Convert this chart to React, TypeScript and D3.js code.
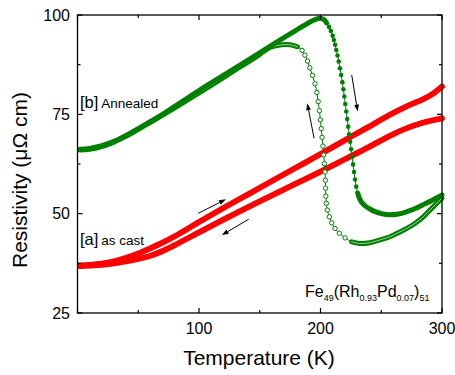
import React from 'react';
import * as d3 from 'd3';

const W = 455;
const H = 375;

// Axis ticks
const X_MAJOR = [0, 100, 200, 300];
const X_LABELS = ['', '100', '200', '300'];
const X_MINOR = [50, 150, 250];
const Y_MAJOR = [25, 50, 75, 100];
const Y_LABELS = ['25', '50', '75', '100'];
const Y_MINOR = [37.5, 62.5, 87.5];

// [a] as cast, heating (upper red)
const RED_HEAT_T = [2, 10, 20, 30, 40, 50, 60, 70, 80, 100, 120, 140, 160, 180, 200, 220, 240, 257, 270, 285, 292, 300];
const RED_HEAT_R = [37.0, 37.1, 37.4, 38.0, 38.9, 40.0, 41.3, 42.7, 44.3, 47.9, 51.4, 54.8, 58.2, 61.6, 65.0, 68.5, 71.9, 74.9, 76.9, 78.9, 80.1, 82.0];
// [a] as cast, cooling (lower red)
const RED_COOL_T = [300, 284, 270, 257, 240, 220, 200, 180, 160, 140, 120, 100, 80, 70, 60, 50, 40, 30, 20, 10, 2];
const RED_COOL_R = [74.0, 72.9, 71.4, 69.6, 66.8, 63.7, 60.6, 57.6, 54.6, 51.6, 48.5, 45.3, 42.1, 40.6, 39.4, 38.6, 38.0, 37.5, 37.1, 36.9, 36.8];

// [b] Annealed, heating (filled green)
const GREEN_HEAT_T = [2, 10, 20, 30, 40, 50, 60, 70, 80, 100, 120, 140, 160, 180, 190, 196, 200, 203, 205, 207, 208.5, 210, 211, 212, 213, 214, 215, 216, 217, 218, 218.8, 219.6, 220.4, 221.2, 222, 222.8, 223.6, 224.4, 225.2, 226, 226.8, 227.6, 228.4, 229.4, 230.6, 232, 234, 237, 241, 245, 250, 257, 264, 271, 278, 284, 292, 300];
const GREEN_HEAT_R = [66.2, 66.4, 67.1, 68.2, 69.7, 71.4, 73.2, 75.0, 77.0, 81.0, 84.8, 88.6, 92.4, 96.2, 98.0, 98.9, 99.2, 98.8, 98.0, 97.0, 96.0, 94.8, 93.7, 92.5, 91.2, 89.8, 88.3, 86.6, 84.9, 83.1, 81.3, 79.5, 77.6, 75.7, 73.8, 71.9, 70.0, 68.1, 66.2, 64.3, 62.4, 60.5, 58.6, 56.8, 55.2, 53.9, 52.8, 51.9, 51.1, 50.5, 50.0, 49.7, 49.9, 50.5, 51.3, 52.2, 53.4, 54.7];
// [b] Annealed, cooling (open green)
const GREEN_COOL_T = [300, 292, 284.6, 278, 271, 264, 257.2, 249, 240.7, 232.5, 225.7, 220.2, 215.5, 211.9, 209.2, 207.3, 205.6, 204.8, 204.4, 204.2, 204.0, 203.7, 203.2, 202.6, 202.0, 201.3, 200.6, 199.9, 199.1, 198.1, 197.0, 195.5, 193.4, 191.2, 189.3, 187.2, 184.8, 181, 175, 168, 159, 153, 148, 130, 110, 90, 70, 60, 50, 40, 30, 20, 10, 2];
const GREEN_COOL_R = [53.9, 51.5, 49.2, 47.6, 46.3, 45.2, 44.2, 43.4, 42.7, 42.5, 42.9, 43.9, 45.1, 46.3, 47.7, 49.2, 50.9, 52.6, 54.4, 56.4, 58.4, 60.5, 62.6, 64.8, 67.0, 69.2, 71.4, 73.6, 75.9, 78.2, 80.5, 82.7, 84.8, 86.7, 88.4, 89.9, 91.1, 92.0, 92.5, 92.5, 91.9, 90.8, 89.6, 86.2, 82.3, 78.5, 74.8, 73.0, 71.2, 69.5, 68.0, 66.9, 66.2, 66.0];

// Temperature windows where individual markers are visible
const HEAT_DOT_RANGE = [207, 230];
const COOL_DOT_RANGE = [183, 222];

// Arrows (data units): [T0, R0, T1, R1]
const ARROWS = [
  [99.4, 50.1, 122.2, 53.6],
  [140.9, 48.6, 118.7, 44.6],
  [194.7, 69.0, 189.1, 77.8],
  [225.7, 84.9, 230.6, 75.7],
];

const RED = '#ff0000';
const GREEN = '#008000';
const FONT = 'Liberation Sans, Arial, sans-serif';

type P = { t: number; r: number };
const zip = (T: number[], R: number[]): P[] => T.map((t, i) => ({ t, r: R[i] }));

export default function App() {
  const x = d3.scaleLinear().domain([0, 300]).range([77.5, 442]);
  const y = d3.scaleLinear().domain([25, 100]).range([313, 15]);

  const redHeat = zip(RED_HEAT_T, RED_HEAT_R);
  const redCool = zip(RED_COOL_T, RED_COOL_R);
  const gHeat = zip(GREEN_HEAT_T, GREEN_HEAT_R);
  const gCool = zip(GREEN_COOL_T, GREEN_COOL_R);

  const line = d3
    .line<P>()
    .x((d) => x(d.t))
    .y((d) => y(d.r))
    .curve(d3.curveCatmullRom.alpha(0.5));

  const inRange = (rng: number[]) => (d: P) => d.t >= rng[0] && d.t <= rng[1];
  const heatDot = inRange(HEAT_DOT_RANGE);
  const coolDot = inRange(COOL_DOT_RANGE);

  const bandLine = (pred: (d: P) => boolean) =>
    d3
      .line<P>()
      .defined((d) => !pred(d))
      .x((d) => x(d.t))
      .y((d) => y(d.r))
      .curve(d3.curveCatmullRom.alpha(0.5));

  const arrowEls = ARROWS.map((a, i) => {
    const x0 = x(a[0]), y0 = y(a[1]), x1 = x(a[2]), y1 = y(a[3]);
    const dx = x1 - x0, dy = y1 - y0;
    const len = Math.hypot(dx, dy);
    const ux = dx / len, uy = dy / len;
    const hl = 7, hw = 2.4;
    const bx = x1 - ux * hl, by = y1 - uy * hl;
    const pts = `${x1},${y1} ${bx - uy * hw},${by + ux * hw} ${bx + uy * hw},${by - ux * hw}`;
    return (
      <g key={i}>
        <line x1={x0} y1={y0} x2={bx} y2={by} stroke="#000" strokeWidth={1} />
        <polygon points={pts} fill="#000" />
      </g>
    );
  });

  const [xl, xr] = x.range();
  const [yb, yt] = y.range();

  return (
    <svg width={W} height={H} style={{ position: 'absolute', left: 0, top: 0, background: '#fff' }} fontFamily={FONT}>
      {/* red series */}
      <path d={line(redCool) || ''} fill="none" stroke={RED} strokeWidth={5.8} strokeLinecap="round" strokeLinejoin="round" />
      <path d={line(redHeat) || ''} fill="none" stroke={RED} strokeWidth={5.8} strokeLinecap="round" strokeLinejoin="round" />

      {/* green cooling (open) */}
      <path d={line(gCool) || ''} fill="none" stroke={GREEN} strokeWidth={1} />
      <path d={bandLine(coolDot)(gCool) || ''} fill="none" stroke={GREEN} strokeWidth={5} strokeLinecap="round" strokeLinejoin="round" />
      <path d={bandLine(coolDot)(gCool) || ''} fill="none" stroke="#fff" strokeWidth={1} strokeOpacity={0.6} strokeLinecap="round" strokeLinejoin="round" />
      {gCool.filter(coolDot).map((d, i) => (
        <circle key={'co' + i} cx={x(d.t)} cy={y(d.r)} r={2.2} fill="#fff" stroke={GREEN} strokeWidth={1} />
      ))}

      {/* green heating (filled) */}
      <path d={line(gHeat) || ''} fill="none" stroke={GREEN} strokeWidth={1} />
      <path d={bandLine(heatDot)(gHeat) || ''} fill="none" stroke={GREEN} strokeWidth={5} strokeLinecap="round" strokeLinejoin="round" />
      {gHeat.filter(heatDot).map((d, i) => (
        <circle key={'hf' + i} cx={x(d.t)} cy={y(d.r)} r={2.3} fill={GREEN} />
      ))}

      {arrowEls}

      {/* annotations */}
      <text x={x(2)} y={108} fontSize={16.5}>
        [b]<tspan fontSize={13.5} dx={3}>Annealed</tspan>
      </text>
      <text x={x(2)} y={245} fontSize={16.5}>
        [a]<tspan fontSize={13.5} dx={3}>as cast</tspan>
      </text>
      <text x={305} y={296.5} fontSize={16}>
        Fe
        <tspan fontSize={9} dy={4}>49</tspan>
        <tspan dy={-4}>(Rh</tspan>
        <tspan fontSize={9} dy={4}>0.93</tspan>
        <tspan dy={-4}>Pd</tspan>
        <tspan fontSize={9} dy={4}>0.07</tspan>
        <tspan dy={-4}>)</tspan>
        <tspan fontSize={9} dy={4}>51</tspan>
      </text>

      {/* axes frame */}
      <rect x={xl} y={yt} width={xr - xl} height={yb - yt} fill="none" stroke="#000" strokeWidth={1.3} />
      {X_MAJOR.map((v) => (
        <g key={'xm' + v}>
          <line x1={x(v)} x2={x(v)} y1={yb} y2={yb - 5} stroke="#000" strokeWidth={1.2} />
          <line x1={x(v)} x2={x(v)} y1={yt} y2={yt + 5} stroke="#000" strokeWidth={1.2} />
        </g>
      ))}
      {X_MINOR.map((v) => (
        <g key={'xn' + v}>
          <line x1={x(v)} x2={x(v)} y1={yb} y2={yb - 3} stroke="#000" strokeWidth={1.2} />
          <line x1={x(v)} x2={x(v)} y1={yt} y2={yt + 3} stroke="#000" strokeWidth={1.2} />
        </g>
      ))}
      {Y_MAJOR.map((v) => (
        <g key={'ym' + v}>
          <line x1={xl} x2={xl + 5} y1={y(v)} y2={y(v)} stroke="#000" strokeWidth={1.2} />
          <line x1={xr} x2={xr - 5} y1={y(v)} y2={y(v)} stroke="#000" strokeWidth={1.2} />
        </g>
      ))}
      {Y_MINOR.map((v) => (
        <g key={'yn' + v}>
          <line x1={xl} x2={xl + 3} y1={y(v)} y2={y(v)} stroke="#000" strokeWidth={1.2} />
          <line x1={xr} x2={xr - 3} y1={y(v)} y2={y(v)} stroke="#000" strokeWidth={1.2} />
        </g>
      ))}
      {X_MAJOR.map((v, i) => (
        <text key={'xl' + v} x={x(v)} y={334} fontSize={16} textAnchor="middle">
          {X_LABELS[i]}
        </text>
      ))}
      {Y_MAJOR.map((v, i) => (
        <text key={'yl' + v} x={70} y={y(v) + 5.8} fontSize={16} textAnchor="end">
          {Y_LABELS[i]}
        </text>
      ))}
      <text x={259} y={365} fontSize={21} textAnchor="middle">
        Temperature (K)
      </text>
      <text transform={`translate(27,180) rotate(-90)`} fontSize={21} textAnchor="middle">
        Resistivity (μΩ cm)
      </text>
    </svg>
  );
}
